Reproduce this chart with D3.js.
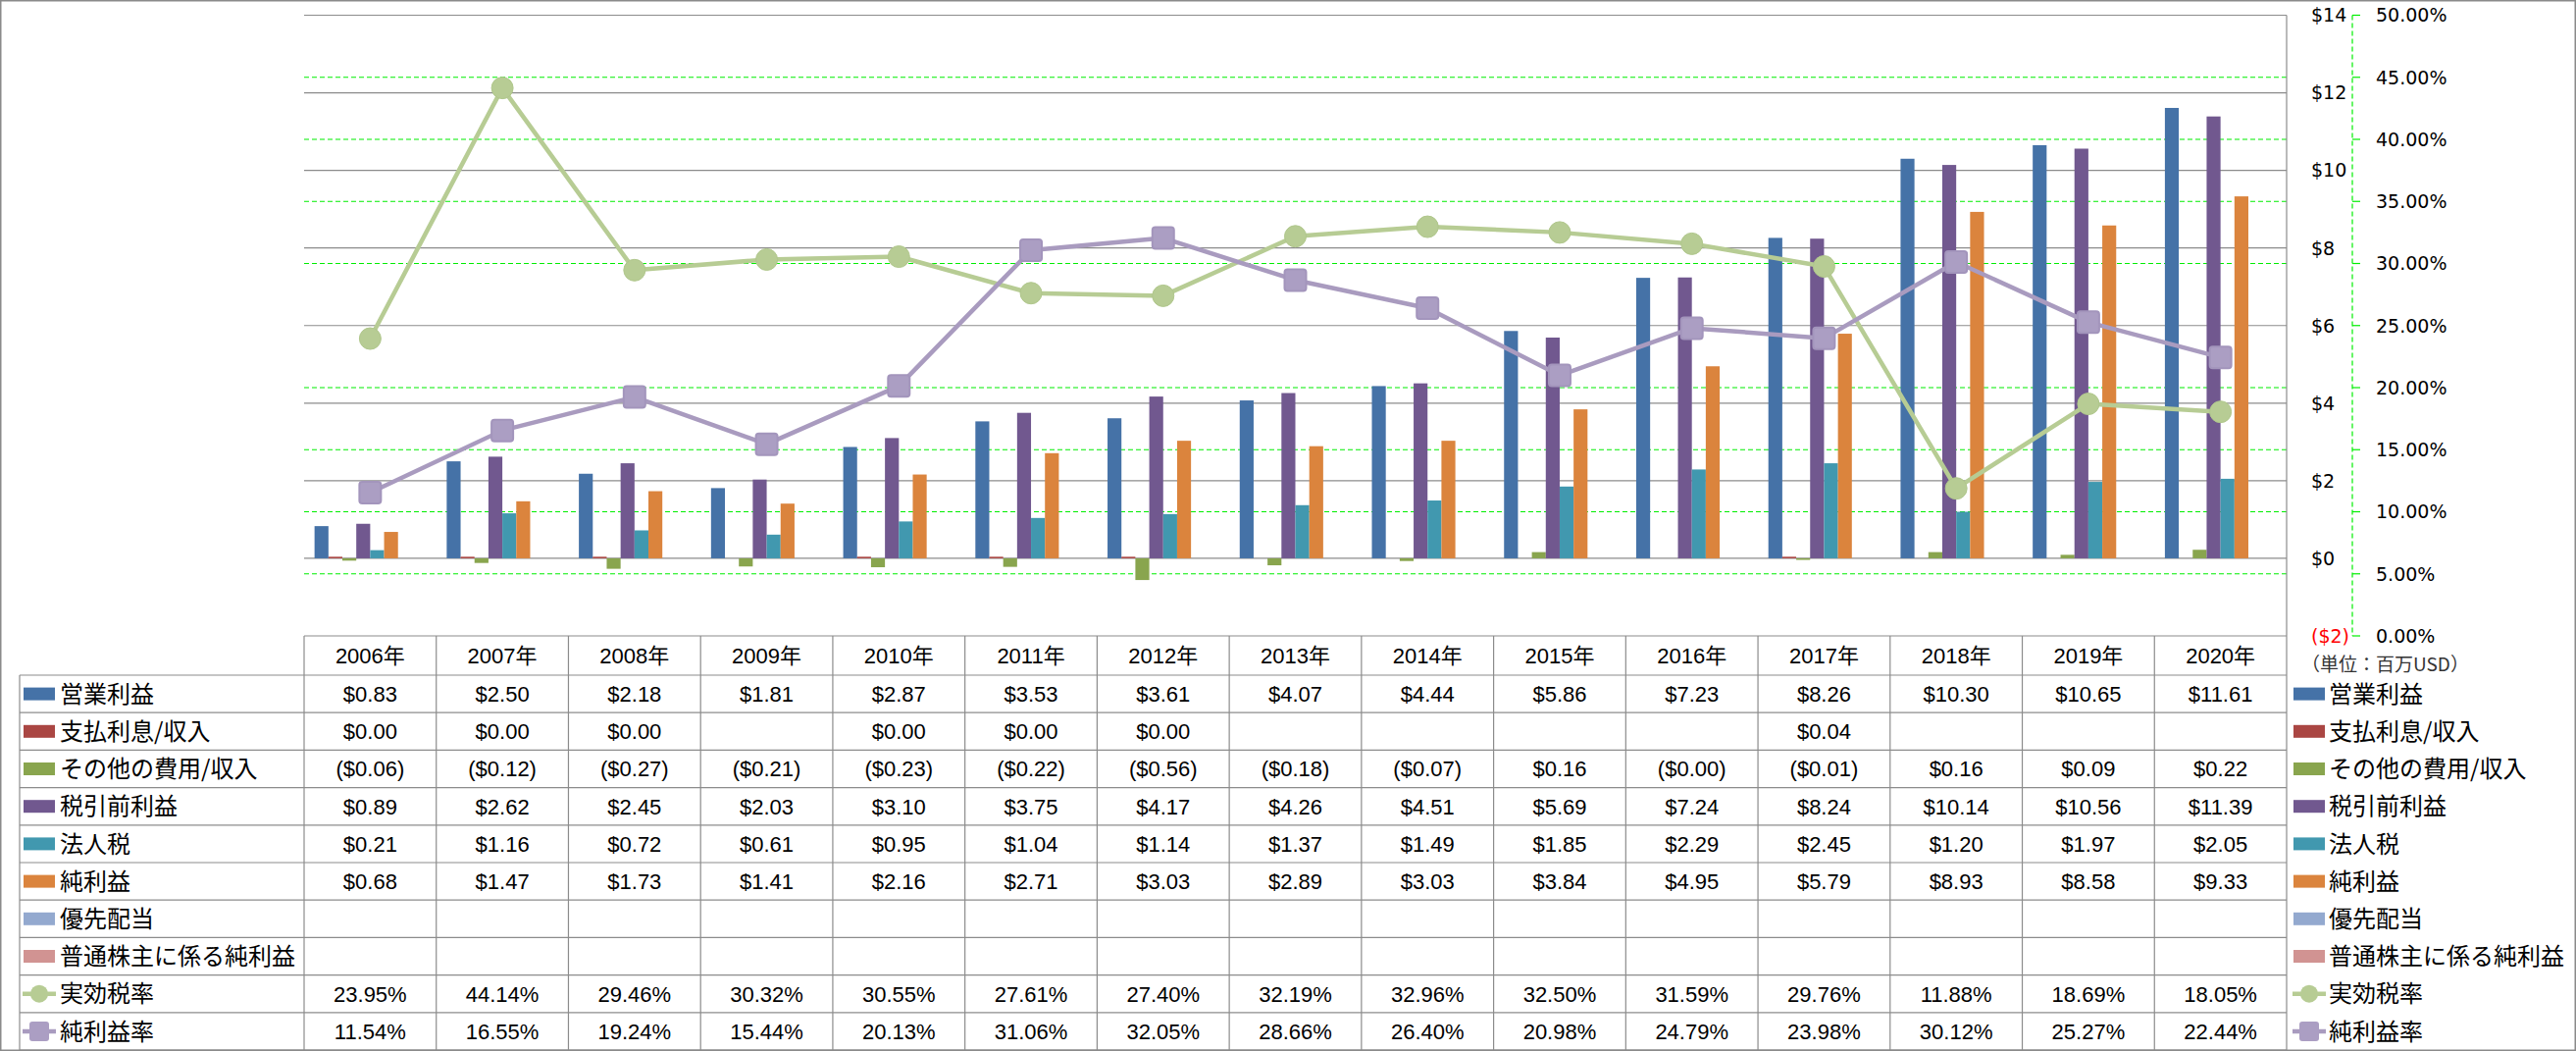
<!DOCTYPE html>
<html><head><meta charset="utf-8">
<script src="https://cdn.jsdelivr.net/npm/d3@7"></script>
<style>
html,body{margin:0;padding:0;background:#fff;}
svg{display:block;}
</style></head>
<body>
<svg id="chart" width="2626" height="1071"></svg>
<script>
// ---------- DATA ----------
const years = ['2006年','2007年','2008年','2009年','2010年','2011年','2012年','2013年','2014年','2015年','2016年','2017年','2018年','2019年','2020年'];
const barSeriesNames = ['営業利益','支払利息/収入','その他の費用/収入','税引前利益','法人税','純利益','優先配当','普通株主に係る純利益'];
const opIncome   = [0.83,2.50,2.18,1.81,2.87,3.53,3.61,4.07,4.44,5.86,7.23,8.26,10.30,10.65,11.61];
const interest   = [0.004,0.004,0.004,null,0.004,0.004,0.004,null,null,null,null,0.04,null,null,null];
const otherExp   = [-0.06,-0.12,-0.27,-0.21,-0.23,-0.22,-0.56,-0.18,-0.07,0.16,-0.001,-0.01,0.16,0.09,0.22];
const pretax     = [0.89,2.62,2.45,2.03,3.10,3.75,4.17,4.26,4.51,5.69,7.24,8.24,10.14,10.56,11.39];
const incomeTax  = [0.21,1.16,0.72,0.61,0.95,1.04,1.14,1.37,1.49,1.85,2.29,2.45,1.20,1.97,2.05];
const netIncome  = [0.68,1.47,1.73,1.41,2.16,2.71,3.03,2.89,3.03,3.84,4.95,5.79,8.93,8.58,9.33];
const prefDiv    = [null,null,null,null,null,null,null,null,null,null,null,null,null,null,null];
const commonNet  = [null,null,null,null,null,null,null,null,null,null,null,null,null,null,null];
const lineSeriesNames = ['実効税率','純利益率'];
const effTaxRate = [23.95,44.14,29.46,30.32,30.55,27.61,27.40,32.19,32.96,32.50,31.59,29.76,11.88,18.69,18.05];
const netMargin  = [11.54,16.55,19.24,15.44,20.13,31.06,32.05,28.66,26.40,20.98,24.79,23.98,30.12,25.27,22.44];
const dollarTicks = [-2,0,2,4,6,8,10,12,14];
const pctTicks = [0,5,10,15,20,25,30,35,40,45,50];
const unitLabel = '（単位：百万USD）';

// ---------- STYLE ----------
const barColors = ['#4572A7','#AA4643','#89A54E','#71588F','#4198AF','#DB843D','#93A9CF','#D19392'];
const lineColors = ['#B7CC94','#A99BBF'];
const barValues = [opIncome,interest,otherExp,pretax,incomeTax,netIncome,prefDiv,commonNet];
const lineValues = [effTaxRate,netMargin];

const L = 310, R = 2331, T = 15.5, B = 648;
const headerH = 40, rowH = 38.2;
const svg = d3.select('#chart');
svg.append('rect').attr('x',0.75).attr('y',0.75).attr('width',2624.5).attr('height',1069.5)
  .attr('fill','#fff').attr('stroke','#8a8a8a').attr('stroke-width',1.5);

const x = d3.scaleBand().domain(years).range([L,R]).padding(0);
const xs = d3.scaleBand().domain(barSeriesNames).range([0,x.bandwidth()]).paddingInner(0).paddingOuter(0.75);
const yD = d3.scaleLinear().domain([-2,14]).range([B,T]);
const yP = d3.scaleLinear().domain([0,50]).range([B,T]);

// gridlines
const g = svg.append('g');
g.selectAll('line.gd').data(dollarTicks.filter(d=>d>-2)).join('line')
  .attr('x1',L).attr('x2',R).attr('y1',d=>yD(d)).attr('y2',d=>yD(d))
  .attr('stroke','#8c8c8c').attr('stroke-width',1.2);
g.selectAll('line.gp').data(pctTicks.filter(d=>d>0 && d<50 && d!==25)).join('line')
  .attr('x1',L).attr('x2',R).attr('y1',d=>yP(d)).attr('y2',d=>yP(d))
  .attr('stroke','#00ee00').attr('stroke-width',1.2).attr('stroke-dasharray','5,3');
g.append('line').attr('x1',R).attr('x2',R).attr('y1',T).attr('y2',B).attr('stroke','#8c8c8c').attr('stroke-width',1.2);

// bars
const barH = (v)=>{ const h = Math.abs(yD(v)-yD(0)); return Math.max(h,1.6); };
barValues.forEach((vals,si)=>{
  const name = barSeriesNames[si];
  svg.append('g').selectAll('rect').data(vals.map((v,i)=>({v,yr:years[i]})).filter(d=>d.v!==null && Math.abs(d.v)>0.0015))
    .join('rect')
    .attr('x',d=>x(d.yr)+xs(name))
    .attr('width',xs.bandwidth())
    .attr('y',d=> d.v>=0 ? yD(0)-barH(d.v) : yD(0))
    .attr('height',d=>barH(d.v))
    .attr('fill',barColors[si]);
});

// lines
const markerShape = ['circle','square'];
lineValues.forEach((vals,li)=>{
  const pts = vals.map((v,i)=>[x(years[i])+x.bandwidth()/2, yP(v)]);
  svg.append('path').attr('d',d3.line()(pts)).attr('fill','none')
    .attr('stroke',lineColors[li]).attr('stroke-width',4.5).attr('stroke-linejoin','round');
  const mg = svg.append('g');
  if(markerShape[li]==='circle'){
    mg.selectAll('circle').data(pts).join('circle').attr('cx',d=>d[0]).attr('cy',d=>d[1]).attr('r',11)
      .attr('fill',lineColors[li]).attr('stroke','#b0c78c').attr('stroke-width',1);
  } else {
    mg.selectAll('rect').data(pts).join('rect').attr('x',d=>d[0]-11).attr('y',d=>d[1]-11)
      .attr('width',22).attr('height',22).attr('rx',3)
      .attr('fill','#AB9EC3').attr('stroke','#A395BC').attr('stroke-width',2);
  }
});

// right axes
const ax = svg.append('g');
const axisX = 2398;
ax.append('line').attr('x1',axisX).attr('x2',axisX).attr('y1',T).attr('y2',B)
  .attr('stroke','#00ee00').attr('stroke-width',1.2).attr('stroke-dasharray','5,3');
ax.selectAll('line.tk').data(pctTicks).join('line')
  .attr('x1',axisX).attr('x2',axisX+8).attr('y1',d=>yP(d)).attr('y2',d=>yP(d))
  .attr('stroke','#00ee00').attr('stroke-width',1.2);
const fmtAxisD = d => d<0 ? '($'+Math.abs(d)+')' : '$'+d;
ax.selectAll('text.d').data(dollarTicks).join('text')
  .attr('x',2356).attr('y',d=>yD(d)).attr('dy','0.36em')
  .attr('font-family','DejaVu Sans, Verdana, sans-serif').attr('font-size',19)
  .attr('fill',d=>d<0?'#ff0000':'#000').text(fmtAxisD);
ax.selectAll('text.p').data(pctTicks).join('text')
  .attr('x',2422).attr('y',d=>yP(d)).attr('dy','0.36em')
  .attr('font-family','DejaVu Sans, Verdana, sans-serif').attr('font-size',19)
  .attr('fill','#000').text(d=>d.toFixed(2)+'%');
ax.append('text').attr('x',2346).attr('y',677).attr('dy','0.36em')
  .attr('font-family','Noto Sans CJK JP, sans-serif').attr('font-size',19).attr('fill','#333').text(unitLabel);

// ---------- TABLE ----------
const tb = svg.append('g');
const numFont = 'Liberation Sans, Arial, Noto Sans CJK JP, sans-serif';
const jpFont = 'Noto Sans CJK JP, sans-serif';
const rowNames = barSeriesNames.concat(lineSeriesNames);
const rowTop = i => B + headerH + i*rowH;
const tableBottom = rowTop(rowNames.length);
const lineC = '#8c8c8c';
tb.append('line').attr('x1',L).attr('x2',R).attr('y1',B).attr('y2',B).attr('stroke',lineC).attr('stroke-width',1.2);
years.forEach(yr=>{
  tb.append('text').attr('x',x(yr)+x.bandwidth()/2).attr('y',B+headerH/2).attr('dy','0.36em')
    .attr('text-anchor','middle').attr('font-family',numFont).attr('font-size',22).attr('fill','#000').text(yr);
});
for(let i=0;i<=rowNames.length;i++){
  tb.append('line').attr('x1',20).attr('x2',R).attr('y1',rowTop(i)).attr('y2',rowTop(i)).attr('stroke',lineC).attr('stroke-width',1.2);
}
tb.append('line').attr('x1',20).attr('x2',20).attr('y1',rowTop(0)).attr('y2',tableBottom).attr('stroke',lineC).attr('stroke-width',1.2);
years.concat([null]).forEach((yr)=>{
  const xx = yr ? x(yr) : R;
  tb.append('line').attr('x1',xx).attr('x2',xx).attr('y1',B).attr('y2',tableBottom).attr('stroke',lineC).attr('stroke-width',1.2);
});
const fmtD = v => v===null ? '' : (v<0 ? '($'+Math.abs(v).toFixed(2)+')' : '$'+v.toFixed(2));
const fmtP = v => v===null ? '' : v.toFixed(2)+'%';
const allVals = barValues.concat(lineValues);
rowNames.forEach((name,ri)=>{
  const cy = rowTop(ri)+rowH/2;
  const isLine = ri>=barSeriesNames.length;
  allVals[ri].forEach((v,ci)=>{
    tb.append('text').attr('x',x(years[ci])+x.bandwidth()/2).attr('y',cy).attr('dy','0.36em')
      .attr('text-anchor','middle').attr('font-family',numFont).attr('font-size',22).attr('fill','#000')
      .text(isLine?fmtP(v):fmtD(v));
  });
  [[24,61],[2338,2374]].forEach(([kx,tx])=>{
    if(!isLine){
      tb.append('rect').attr('x',kx).attr('y',cy-6.5).attr('width',32).attr('height',13).attr('fill',barColors[ri]);
    } else {
      const li = ri-barSeriesNames.length;
      tb.append('line').attr('x1',kx-1).attr('x2',kx+33).attr('y1',cy).attr('y2',cy)
        .attr('stroke',lineColors[li]).attr('stroke-width',4.5);
      if(li===0){
        tb.append('circle').attr('cx',kx+16).attr('cy',cy).attr('r',9).attr('fill',lineColors[li]);
      } else {
        tb.append('rect').attr('x',kx+6).attr('y',cy-10).attr('width',20).attr('height',20).attr('rx',3).attr('fill','#AB9EC3');
      }
    }
    tb.append('text').attr('x',tx).attr('y',cy).attr('dy','0.36em')
      .attr('font-family',jpFont).attr('font-size',24).attr('fill','#000').text(name);
  });
});
</script>
</body></html>
